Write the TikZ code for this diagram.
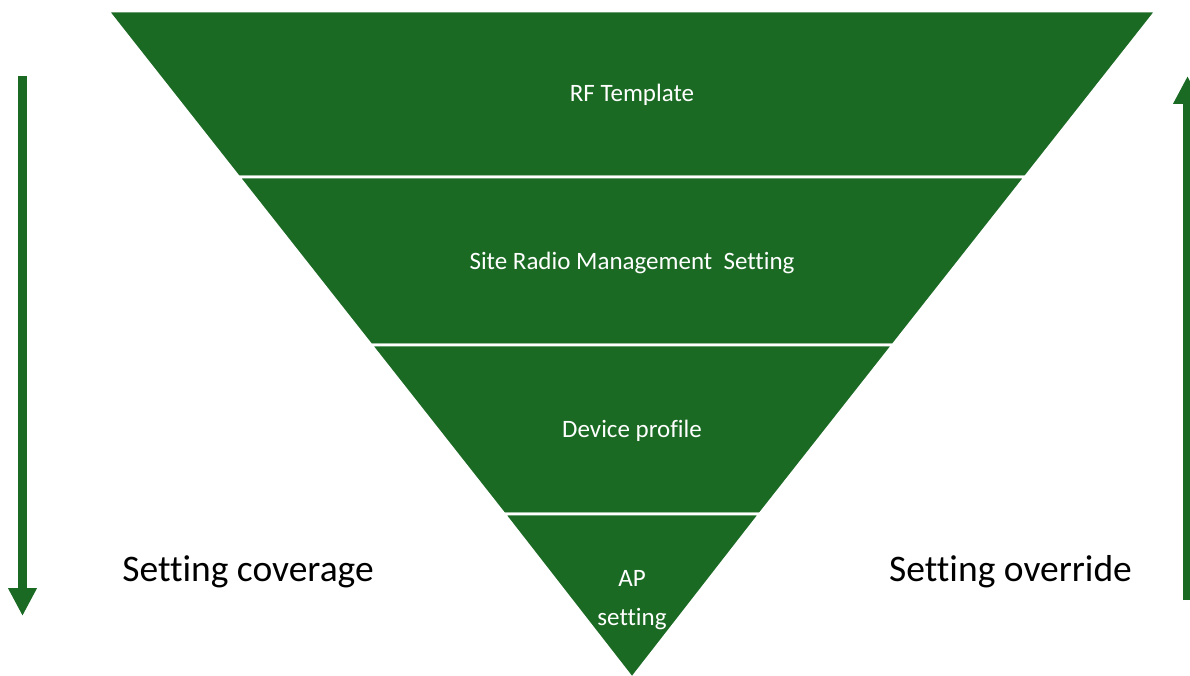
\documentclass[tikz,border=0pt]{standalone}
\usepackage{fontspec}
\setmainfont[Ligatures={NoCommon,NoRequired,NoContextual}]{Carlito}
\usetikzlibrary{arrows.meta}
\definecolor{leafgreen}{RGB}{27,106,36}
\tikzset{
  band/.style={fill=leafgreen, draw=white, line width=2.6pt, line join=miter},
  bandtext/.style={text=white, font=\fontsize{25}{39}\selectfont, align=center, inner sep=0pt},
  sidetext/.style={text=black, font=\fontsize{37.5}{44}\selectfont, inner sep=0pt},
  flowarrow/.style={draw=leafgreen, line width=9pt, line cap=butt,
    -{Triangle[width=27pt,length=28pt]}, fill=leafgreen}
}
\begin{document}
\begin{tikzpicture}[x=1pt,y=-1pt]
  \useasboundingbox (0,0) rectangle (1190,676);
  % inverted pyramid, four layers
  \draw[band] (108,11) -- (1156,11) -- (1025.2,177) -- (238.8,177) -- cycle;
  \draw[band] (238.8,177) -- (1025.2,177) -- (892.8,345) -- (371.2,345) -- cycle;
  \draw[band] (371.2,345) -- (892.8,345) -- (759.7,514) -- (504.3,514) -- cycle;
  \draw[band] (504.3,514) -- (759.7,514) -- (632,678) -- cycle;
  % layer labels
  \node[bandtext] (rf) at (632,95) {RF Template};
  \node[bandtext] (site) at (632,263) {Site Radio Management\ \ Setting};
  \node[bandtext] (dev) at (632,431) {Device profile};
  \node[bandtext] (ap) at (632,600) {AP\\setting};
  % side labels
  \node[sidetext] (cov) at (248,572) {Setting coverage};
  \node[sidetext] (ovr) at (1010.5,572) {Setting override};
  % direction arrows
  \coordinate (covtop) at (22.5,76);
  \coordinate (covbot) at (22.5,616);
  \coordinate (ovbot) at (1187.5,600);
  \coordinate (ovtop) at (1187.5,76);
  \draw[flowarrow] (covtop) -- (covbot);
  \draw[flowarrow] (ovbot) -- (ovtop);
\end{tikzpicture}
\end{document}
